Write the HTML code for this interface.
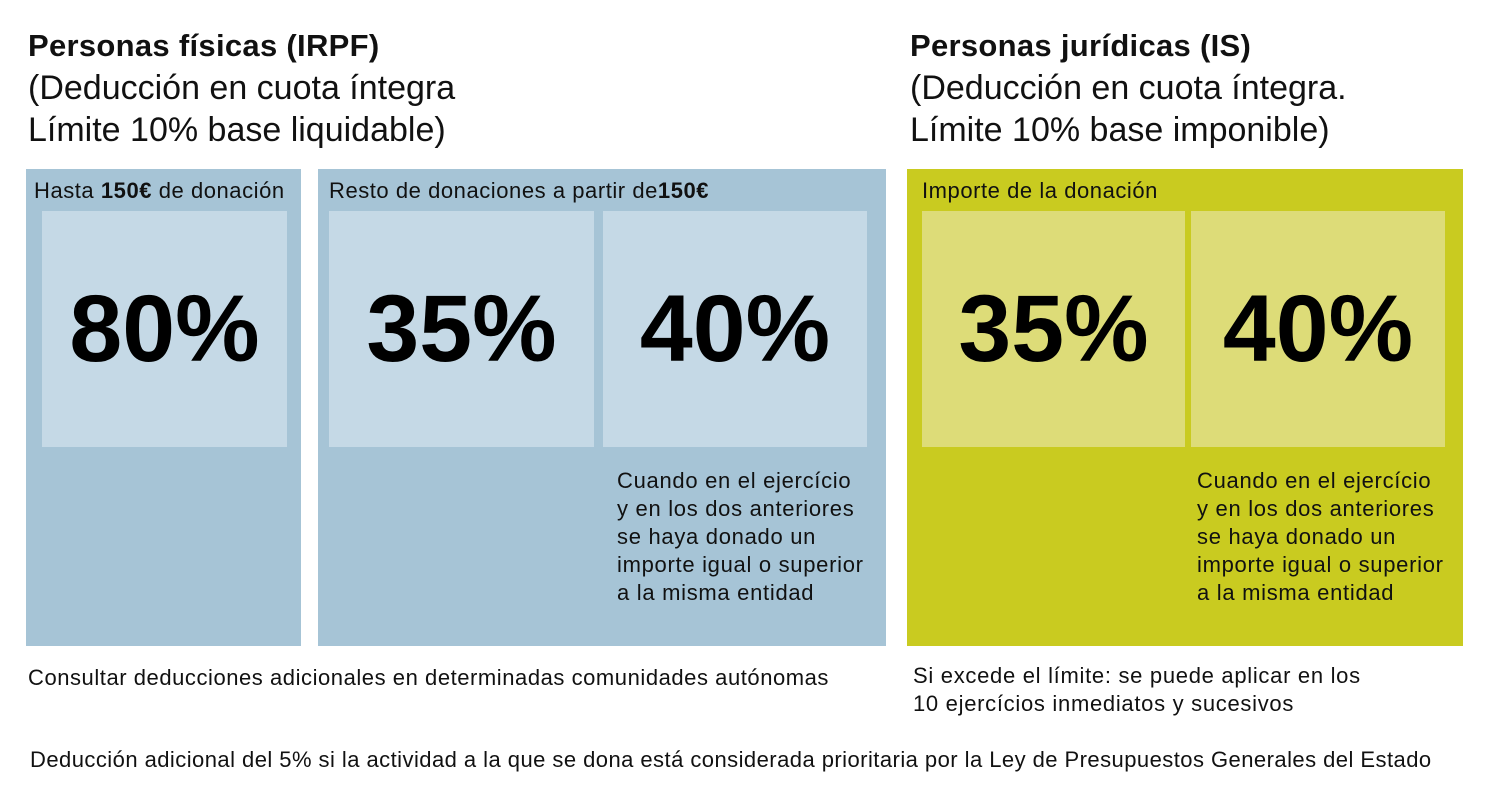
<!DOCTYPE html>
<html><head><meta charset="utf-8"><style>
body{margin:0;width:1500px;height:802px;background:#fff;position:relative;overflow:hidden;font-family:"Liberation Sans",sans-serif;color:#111}
div{position:absolute}
.t{font-size:34px;line-height:42px;white-space:nowrap}
.t b{font-size:31px;letter-spacing:0.3px}
.box{background:#a6c4d6}
.in{background:#c5d9e6}
.g{background:#c9cb20}
.gi{background:#dddc78}
.big{font-weight:bold;font-size:95px;display:flex;align-items:center;justify-content:center;color:#000;letter-spacing:0}
.s{font-size:22px;letter-spacing:0.55px;white-space:nowrap}
.n{font-size:22px;letter-spacing:0.7px;line-height:28px;white-space:nowrap}
</style></head><body>
<div class="t" style="left:28px;top:24px"><b>Personas físicas (IRPF)</b><br>(Deducción en cuota íntegra<br>Límite 10% base liquidable)</div>
<div class="t" style="left:910px;top:24px"><b>Personas jurídicas (IS)</b><br>(Deducción en cuota íntegra.<br>Límite 10% base imponible)</div>

<div class="box" style="left:26px;top:169px;width:275px;height:477px"></div>
<div class="s" style="left:34px;top:178px">Hasta <b>150€</b> de donación</div>
<div class="in big" style="left:42px;top:211px;width:245px;height:236px">80%</div>

<div class="box" style="left:318px;top:169px;width:568px;height:477px"></div>
<div class="s" style="left:329px;top:178px">Resto de donaciones a partir de<b>150€</b></div>
<div class="in big" style="left:329px;top:211px;width:265px;height:236px">35%</div>
<div class="in big" style="left:603px;top:211px;width:264px;height:236px">40%</div>
<div class="n" style="left:617px;top:467px">Cuando en el ejercício<br>y en los dos anteriores<br>se haya donado un<br>importe igual o superior<br>a la misma entidad</div>

<div class="g" style="left:907px;top:169px;width:556px;height:477px"></div>
<div class="s" style="left:922px;top:178px">Importe de la donación</div>
<div class="gi big" style="left:922px;top:211px;width:263px;height:236px">35%</div>
<div class="gi big" style="left:1191px;top:211px;width:254px;height:236px">40%</div>
<div class="n" style="left:1197px;top:467px">Cuando en el ejercício<br>y en los dos anteriores<br>se haya donado un<br>importe igual o superior<br>a la misma entidad</div>

<div class="s" style="left:28px;top:665px">Consultar deducciones adicionales en determinadas comunidades autónomas</div>
<div class="n" style="left:913px;top:662px">Si excede el límite: se puede aplicar en los<br>10 ejercícios inmediatos y sucesivos</div>
<div class="s" style="left:30px;top:747px;letter-spacing:0.45px">Deducción adicional del 5% si la actividad a la que se dona está considerada prioritaria por la Ley de Presupuestos Generales del Estado</div>
</body></html>
